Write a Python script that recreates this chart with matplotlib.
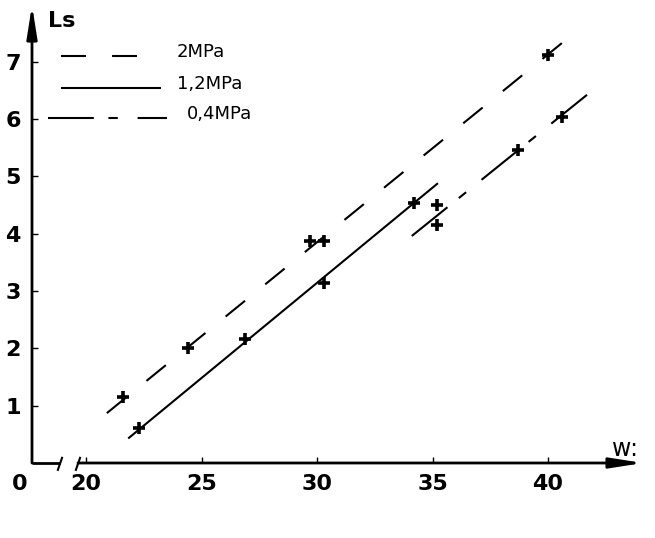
import matplotlib
matplotlib.use("Agg")
import matplotlib.pyplot as plt
from matplotlib.lines import Line2D

# measured points (w, Ls) for the three pressures
w_2mpa = [21.6, 24.4, 29.7, 30.3, 40.0]
ls_2mpa = [1.15, 2.00, 3.87, 3.88, 7.12]
w_12mpa = [22.3, 26.9, 30.3, 34.2]
ls_12mpa = [0.61, 2.16, 3.14, 4.54]
w_04mpa = [35.2, 35.2, 38.7, 40.6]
ls_04mpa = [4.50, 4.15, 5.46, 6.04]

# hand-drawn fit lines (end points)
fit_2mpa_w = [20.9, 41.1]
fit_2mpa_ls = [0.87, 7.49]
fit_12mpa_w = [21.86, 35.2]
fit_12mpa_ls = [0.44, 4.87]
fit_04mpa_w = [34.1, 41.8]
fit_04mpa_ls = [3.96, 6.46]

x_ticks = [20, 25, 30, 35, 40]
y_ticks = [1, 2, 3, 4, 5, 6, 7]
labels = ["2MPa", "1,2MPa", "0,4MPa"]

W, H = 655, 538
fig = plt.figure(figsize=(W / 100, H / 100), dpi=100)
ax = fig.add_axes([32 / W, 75 / H, 611 / W, 458 / H])
ax.set_xlim(17.66, 44.11)
ax.set_ylim(0, 7.99)


def px(x, y):
    # figure pixel -> figure fraction
    return x / W, 1 - y / H


lw = 1.5
dash_2 = (0, (12, 12.5))
dash_04 = (0, (22, 7, 4.5, 9.5))
styles = [dash_2, "-", dash_04]

ax.plot(fit_2mpa_w, fit_2mpa_ls, color="k", lw=lw, linestyle=dash_2)
ax.plot(fit_12mpa_w, fit_12mpa_ls, color="k", lw=lw, linestyle="-")
ax.plot(fit_04mpa_w, fit_04mpa_ls, color="k", lw=lw, linestyle=dash_04)

for xs, ys in [(w_2mpa, ls_2mpa), (w_12mpa, ls_12mpa), (w_04mpa, ls_04mpa)]:
    ax.plot(xs, ys, linestyle="none", marker="+", markersize=9,
            markeredgewidth=2.6, color="k")

# axes drawn by hand: arrows and the break on the w axis
for s in ax.spines.values():
    s.set_visible(False)
arrow = dict(arrowstyle="-|>,head_length=1.4,head_width=0.22",
             lw=2, color="k", mutation_scale=14, shrinkA=0, shrinkB=0)
ax.annotate("", xy=(0, 1), xytext=(0, 0), xycoords="axes fraction", arrowprops=arrow)
ax.annotate("", xy=(44.11, 0), xytext=(19.65, 0), xycoords="data",
            arrowprops=arrow, annotation_clip=False)
ax.plot([17.66, 18.87], [0, 0], color="k", lw=2, clip_on=False, solid_capstyle="butt")
for xb in [18.87, 19.65]:
    ax.plot([xb - 0.09, xb + 0.09], [-0.12, 0.09], color="k", lw=1.5, clip_on=False)

ax.set_xticks(x_ticks)
ax.set_yticks(y_ticks)
ax.tick_params(axis="both", direction="in", length=4, width=1, labelsize=16)
ax.tick_params(axis="x", pad=8)
ax.tick_params(axis="y", pad=8)
for t in ax.get_xticklabels() + ax.get_yticklabels():
    t.set_fontweight("bold")

fig.text(*px(20, 484), "0", fontsize=16, fontweight="bold", ha="center", va="center")
fig.text(*px(48, 21), "Ls", fontsize=16, fontweight="bold", ha="left", va="center")
fig.text(*px(612, 449), "w:", fontsize=17, ha="left", va="center")

# legend drawn by hand at the top left
leg_rows = [(61, 158, 56, 177), (62, 160, 88, 177), (48, 167, 118, 187)]
for (x0, x1, y, tx), style, lab in zip(leg_rows, styles, labels):
    a = px(x0, y)
    b = px(x1, y)
    fig.add_artist(Line2D([a[0], b[0]], [a[1], b[1]], color="k", lw=lw,
                          linestyle=style, transform=fig.transFigure))
    fig.text(*px(tx, y - 4), lab, fontsize=13, ha="left", va="center")

fig.savefig("out.png", dpi=100)
